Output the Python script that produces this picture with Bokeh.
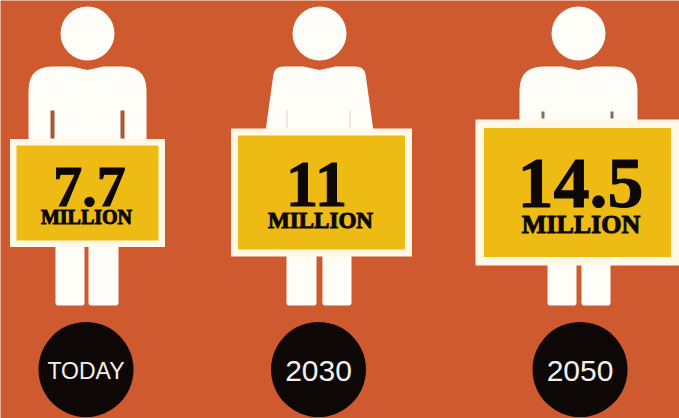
import numpy as np
from bokeh.core.properties import value
from bokeh.embed import file_html
from bokeh.models import Range1d
from bokeh.plotting import figure
from bokeh.resources import INLINE

# Population in millions at each point in time
periods = ["TODAY", "2030", "2050"]
population = [7.7, 11, 14.5]
value_labels = ["7.7", "11", "14.5"]
unit = "MILLION"

BG = "#cf5a2f"
WHITE = "#fffdf7"
CREAM = "#fff8e6"
YELLOW = "#eebb14"
INK = "#0d0706"
W, H = 679, 418

# Figure layout, in page pixels
person_cx = [87, 319, 578]
board_cx = [87, 321, 577]
board_cy = [192.5, 192, 192]
board_edge = [6.5, 7, 8.5]
badge_cx = [85.5, 318, 579.5]
period_size = ["23px", "30px", "30px"]
number_size = ["58px", "65px", "72px"]
number_x = [89, 316, 580]
number_y = [186, 184, 182.5]
unit_size = ["20px", "23px", "26px"]
unit_x = [86, 320, 580.5]
unit_y = [216.5, 219.5, 223.5]


def board_size(v):
    # Board area grows with the figure it carries
    return 155 * (v / 7.7) ** 0.434, 108 * (v / 7.7) ** 0.476


def rounded(points, radii, steps=8):
    xs, ys = [], []
    n = len(points)
    for i, (pt, r) in enumerate(zip(points, radii)):
        p0 = np.array(points[i - 1], float)
        p1 = np.array(pt, float)
        p2 = np.array(points[(i + 1) % n], float)
        if r == 0:
            xs.append(p1[0])
            ys.append(p1[1])
            continue
        a = p1 + (p0 - p1) / np.linalg.norm(p0 - p1) * r
        b = p1 + (p2 - p1) / np.linalg.norm(p2 - p1) * r
        for t in np.linspace(0, 1, steps):
            q = (1 - t) ** 2 * a + 2 * t * (1 - t) * p1 + t**2 * b
            xs.append(q[0])
            ys.append(q[1])
    return xs, ys


def box(x0, y0, x1, y1, r=3):
    return rounded([(x0, y0), (x1, y0), (x1, y1), (x0, y1)], [r] * 4)


def torso(cx, top_half, bottom_half, shoulder):
    pts = [
        (cx - top_half, 66), (cx - 16, 66), (cx, 69.5), (cx + 16, 66),
        (cx + top_half, 66), (cx + bottom_half, 145), (cx - bottom_half, 145),
    ]
    return rounded(pts, [shoulder, 0, 0, 0, shoulder, 0, 0])


p = figure(
    width=W, height=H, output_backend="svg", toolbar_location=None,
    x_range=Range1d(0, W), y_range=Range1d(H, 0),
    min_border=0, background_fill_color=BG, border_fill_color=BG,
)
p.axis.visible = False
p.grid.visible = False
p.outline_line_color = None

# Silhouettes: two plain figures either side of one in a dress
shapes = [(59, 59, 24), (45, 56, 9), (59, 59, 24)]
leg_spans = [((-32, -3), (1, 31)), ((-33, -3), (3, 32)), ((-31, -2), (3, 32))]
arm_marks = [
    ((-37, -33), 110, 138, "#a8583a"),
    ((-32.5, 30.5), 110, 127, "#e9cdbd"),
    ((-35.5, 33.5), 111, 118, "#8d6a5e"),
]

for i, cx in enumerate(person_cx):
    p.circle(x=[cx], y=[33], radius=27, fill_color=WHITE, line_color=None)
    top_half, bottom_half, shoulder = shapes[i]
    tx, ty = torso(cx, top_half, bottom_half, shoulder)
    p.patch(tx, ty, fill_color=WHITE, line_color=None)
    for x0, x1 in leg_spans[i]:
        lx, ly = box(cx + x0, 235, cx + x1, 305)
        p.patch(lx, ly, fill_color=WHITE, line_color=None)
    (m0, m1), y0, y1, colour = arm_marks[i]
    if i == 0:
        gaps = [(cx + m0, cx + m1), (cx - m1, cx - m0)]
    elif i == 1:
        gaps = [(cx + m0 - 0.5, cx + m0 + 0.5), (cx + m1 - 0.5, cx + m1 + 0.5)]
    else:
        gaps = [(cx + m0 - 1.5, cx + m0 + 1.5), (cx + m1 - 1.5, cx + m1 + 1.5)]
    p.quad(left=[g[0] for g in gaps], right=[g[1] for g in gaps],
           top=[y0] * 2, bottom=[y1] * 2, fill_color=colour, line_color=None)

# Boards sized from the population values
for i, v in enumerate(population):
    bw, bh = board_size(v)
    cx, cy, e = board_cx[i], board_cy[i], board_edge[i]
    p.quad(left=[cx - bw / 2], right=[cx + bw / 2], top=[cy - bh / 2], bottom=[cy + bh / 2],
           fill_color=CREAM, line_color=None)
    p.quad(left=[cx - bw / 2 + e], right=[cx + bw / 2 - e], top=[cy - bh / 2 + e], bottom=[cy + bh / 2 - e],
           fill_color=YELLOW, line_color=None)
    p.text(x=[number_x[i]], y=[number_y[i]], text=[value_labels[i]],
           text_font=value("Liberation Serif"), text_font_style="bold", text_font_size=number_size[i],
           text_color=INK, text_outline_color=INK, text_align="center", text_baseline="middle")
    p.text(x=[unit_x[i]], y=[unit_y[i]], text=[unit],
           text_font=value("Liberation Serif"), text_font_style="bold", text_font_size=unit_size[i],
           text_color=INK, text_outline_color=INK, text_align="center", text_baseline="middle")

# Time badges
for i, label in enumerate(periods):
    p.circle(x=[badge_cx[i]], y=[369], radius=47.5, fill_color=INK, line_color=None)
    p.text(x=[badge_cx[i]], y=[370], text=[label],
           text_font=value("Liberation Sans"), text_font_size=period_size[i],
           text_color="#f4f0ec", text_align="center", text_baseline="middle")

open("out.html", "w").write(file_html(p, INLINE))
